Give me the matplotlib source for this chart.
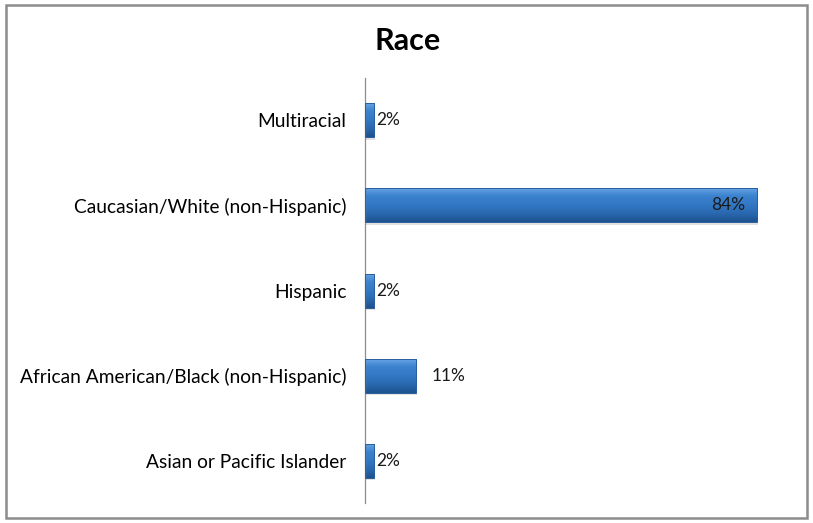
import numpy as np
import matplotlib.pyplot as plt
from matplotlib.patches import Rectangle
from matplotlib.colors import LinearSegmentedColormap

# data (top to bottom)
categories = ['Multiracial', 'Caucasian/White (non-Hispanic)', 'Hispanic',
              'African American/Black (non-Hispanic)', 'Asian or Pacific Islander']
values = [2, 84, 2, 11, 2]
labels = ['2%', '84%', '2%', '11%', '2%']

plt.rcParams['font.family'] = ['Lato', 'DejaVu Sans']


def main():
    fig = plt.figure(figsize=(8.13, 5.23), dpi=100)
    ax = fig.add_axes([0.449, 0.038, 0.517, 0.813])

    # frame around the whole chart
    fig.patches.append(Rectangle((0.007, 0.01), 0.986, 0.98, transform=fig.transFigure,
                                 fill=False, edgecolor='#8c8c8c', linewidth=1.8))

    cmap = LinearSegmentedColormap.from_list('b', ['#6aa6e6', '#3b82cf', '#3278c4', '#2a69b0', '#1d5290'])
    ypos = np.arange(len(categories))
    h = 0.4
    grad = np.linspace(0, 1, 50).reshape(-1, 1)
    for y, v in zip(ypos, values):
        # soft shadow
        ax.add_patch(Rectangle((0.2, y - h / 2 + 0.03), v, h, facecolor='#c4c4c4',
                               alpha=0.5, edgecolor='none', zorder=1))
        im = ax.imshow(grad, extent=(0, v, y + h / 2, y - h / 2), aspect='auto',
                       cmap=cmap, zorder=2)
        r = Rectangle((0, y - h / 2), v, h, facecolor='none', edgecolor='#2a5f9e',
                      linewidth=0.7, zorder=3)
        ax.add_patch(r)
        im.set_clip_path(r)

    for y, v, t in zip(ypos, values, labels):
        if v > 50:
            ax.text(v - 2.5, y, t, ha='right', va='center', fontsize=12.5, color='#1a1a1a', zorder=4)
        else:
            ax.text(v + (3.2 if v > 5 else 0.5), y, t, ha='left', va='center', fontsize=12.5,
                    color='#1a1a1a', zorder=4)

    ax.set_xlim(0, 90)
    ax.set_ylim(len(categories) - 0.5, -0.5)
    ax.set_yticks(ypos)
    ax.set_yticklabels(categories, fontsize=13.8)
    ax.tick_params(axis='y', length=0, pad=13.5)
    ax.set_xticks([])
    for s in ['top', 'right', 'bottom']:
        ax.spines[s].set_visible(False)
    ax.spines['left'].set_color('#8c8c8c')
    ax.spines['left'].set_linewidth(0.9)

    fig.text(0.501, 0.922, 'Race', ha='center', va='center', fontsize=22, fontweight='bold')

    fig.savefig('out.png', dpi=100)


if __name__ == "__main__":
    main()
